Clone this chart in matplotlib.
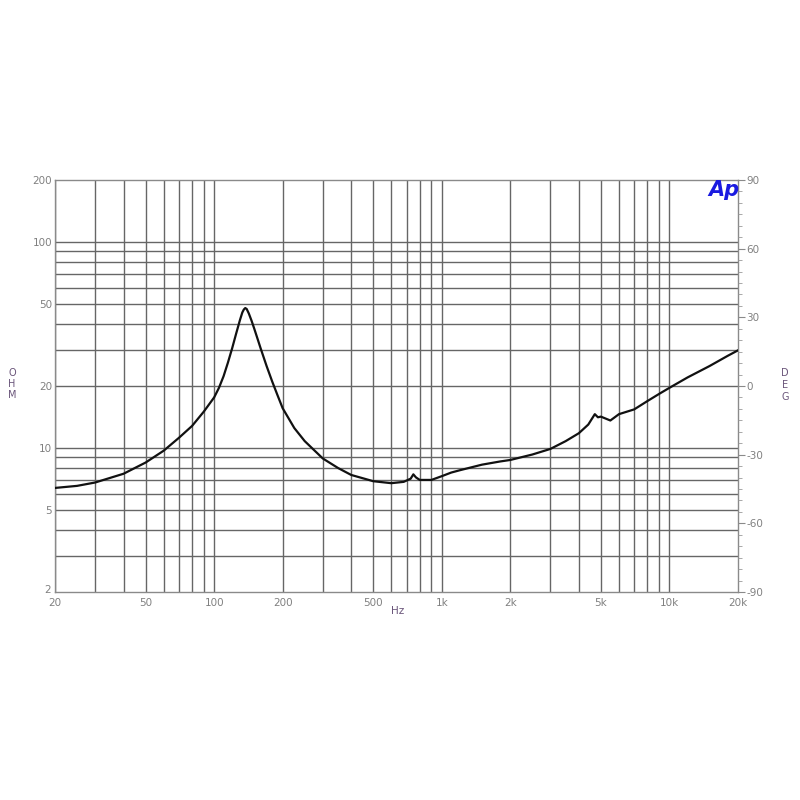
import matplotlib
matplotlib.use("Agg")
import matplotlib.pyplot as plt
from matplotlib.ticker import FixedLocator, NullFormatter, NullLocator
import matplotlib.transforms as mtransforms
import numpy as np

# Impedance curve (Hz, Ohm)
freq = [20, 25, 30, 40, 50, 60, 70, 80, 90, 100, 105, 110, 115, 120, 125, 130,
        133, 135, 137, 139, 142, 146, 150, 155, 160, 170, 180, 190, 200, 225,
        250, 300, 350, 400, 500, 600, 680, 730, 750, 770, 800, 900, 1000, 1100,
        1200, 1500, 1800, 2000, 2500, 3000, 3500, 4000, 4400, 4700, 4850, 5000,
        5500, 5800, 6000, 7000, 8000, 9000, 10000, 12000, 15000, 18000, 20000]
ohm = [6.4, 6.55, 6.8, 7.5, 8.5, 9.7, 11.2, 12.8, 15.0, 17.6, 19.6, 22.3, 26.0,
       30.5, 36.0, 42.0, 45.5, 47.0, 47.8, 47.3, 45.0, 41.5, 38.0, 34.0, 30.5,
       25.0, 21.0, 18.0, 15.6, 12.5, 10.8, 8.9, 8.0, 7.4, 6.9, 6.75, 6.85, 7.1,
       7.45, 7.2, 7.0, 7.0, 7.3, 7.6, 7.8, 8.3, 8.6, 8.75, 9.3, 9.9, 10.8, 11.8,
       13.0, 14.6, 14.1, 14.2, 13.6, 14.2, 14.6, 15.4, 16.9, 18.3, 19.6, 22.0,
       25.0, 28.0, 29.8]

x_labels = ["20", "50", "100", "200", "500", "1k", "2k", "5k", "10k", "20k"]
x_label_vals = [20, 50, 100, 200, 500, 1000, 2000, 5000, 10000, 20000]
x_grid = ([20, 30, 40, 50, 60, 70, 80, 90, 100] +
          [200, 300, 400, 500, 600, 700, 800, 900, 1000] +
          [2000, 3000, 4000, 5000, 6000, 7000, 8000, 9000, 10000])
y_labels = ["2", "5", "10", "20", "50", "100", "200"]
y_label_vals = [2, 5, 10, 20, 50, 100, 200]
y_grid = [3, 4, 5, 6, 7, 8, 9, 10, 20, 30, 40, 50, 60, 70, 80, 90, 100]
deg_ticks = [-90, -60, -30, 0, 30, 60, 90]

grid_c = "#666666"
text_c = "#808080"
label_c = "#6a557a"

fig = plt.figure(figsize=(8, 8), dpi=100)
ax = fig.add_axes([55/800, 1-592/800, 683/800, 412/800])
ax.set_xscale("log")
ax.set_yscale("log")
ax.set_xlim(20, 20000)
ax.set_ylim(2, 200)

for g in x_grid:
    ax.axvline(g, color=grid_c, lw=1.0, zorder=1)
for g in y_grid:
    ax.axhline(g, color=grid_c, lw=1.0, zorder=1)

ax.plot(freq, ohm, color="#111111", lw=1.6, zorder=3)

ax.xaxis.set_major_locator(FixedLocator(x_label_vals))
ax.xaxis.set_minor_locator(NullLocator())
ax.set_xticklabels(x_labels)
ax.yaxis.set_major_locator(FixedLocator(y_label_vals))
ax.yaxis.set_minor_locator(NullLocator())
ax.yaxis.set_minor_formatter(NullFormatter())
ax.xaxis.set_minor_formatter(NullFormatter())
ax.set_yticklabels(y_labels)
ax.tick_params(axis="both", length=0, labelsize=7.5, labelcolor=text_c, pad=2)
ax.tick_params(axis="x", pad=4)
# nudge the bottom "2" label slightly up/left so it does not collide with "20"
lbl2 = ax.get_yticklabels()[0]
lbl2.set_transform(lbl2.get_transform() +
                   mtransforms.ScaledTranslation(-1/100, 3/100, fig.dpi_scale_trans))
for s in ax.spines.values():
    s.set_color("#8a8a8a")
    s.set_linewidth(1.0)

ax2 = ax.twinx()
ax2.set_ylim(-90, 90)
ax2.set_yticks(deg_ticks)
ax2.set_yticklabels([str(v) for v in deg_ticks])
ax2.set_yticks(np.arange(-90, 91, 5), minor=True)
ax2.tick_params(axis="y", which="major", direction="out", length=5, color="#8a8a8a",
                labelsize=7.5, labelcolor=text_c, pad=1)
ax2.tick_params(axis="y", which="minor", direction="out", length=3, color="#9a9a9a")
for s in ax2.spines.values():
    s.set_visible(False)

fig.text(398/800, 1-611/800, "Hz", fontsize=7.5, color=label_c, ha="center", va="center")
for i, ch in enumerate("OHM"):
    fig.text(12/800, 1-(373+11*i)/800, ch, fontsize=7, color=label_c, ha="center", va="center")
for i, ch in enumerate("DEG"):
    fig.text(785/800, 1-(373+12*i)/800, ch, fontsize=7, color=label_c, ha="center", va="center")
fig.text(724/800, 1-190/800, "Ap", fontsize=15, color="#1a1ae0", fontweight="bold",
         fontstyle="italic", ha="center", va="center")

fig.savefig("out.png", dpi=100, facecolor="white")
